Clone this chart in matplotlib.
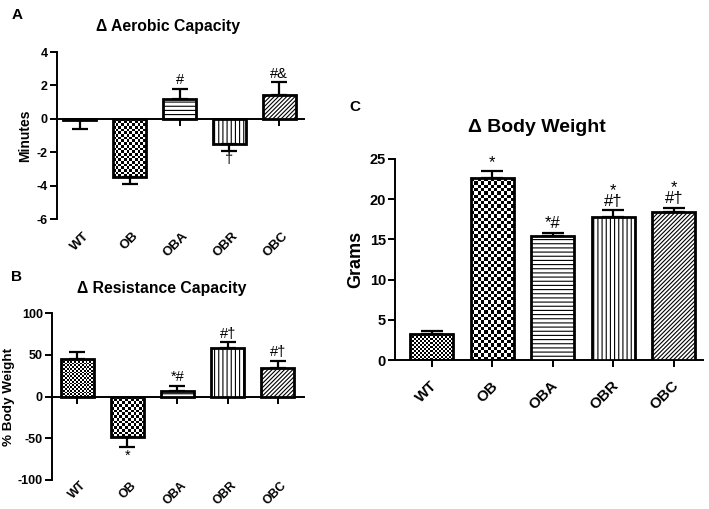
import numpy as np
import matplotlib
matplotlib.use("Agg")
import matplotlib.pyplot as plt
from matplotlib.transforms import ScaledTranslation

plt.rcParams['font.family'] = ['Liberation Sans', 'DejaVu Sans']
plt.rcParams['hatch.linewidth'] = 0.8
plt.rcParams['axes.unicode_minus'] = False

groups = ["WT", "OB", "OBA", "OBR", "OBC"]

aer_vals = [-0.1, -3.5, 1.2, -1.5, 1.4]
aer_err = [0.5, 0.4, 0.6, 0.4, 0.8]
aer_ann = ["", "", "#", "†", "#&"]

res_vals = [45, -48, 6, 58, 34]
res_err = [8, 13, 7, 7, 9]
res_ann = ["", "*", "*#", "#†", "#†"]

bw_vals = [3.2, 22.6, 15.4, 17.8, 18.4]
bw_err = [0.4, 0.9, 0.45, 0.8, 0.55]
bw_ann = ["", "*", "*#", "*\n#†", "*\n#†"]

patterns = ["check_fine", "check", "----", "||||", "////////"]

W, H = 709, 509
fig = plt.figure(figsize=(W / 100, H / 100), dpi=100)


def add_ax(l, r, t, b):
    return fig.add_axes([l / W, 1 - b / H, (r - l) / W, (b - t) / H])


def checker(ax, bar, sq):
    x0, y0 = bar.get_x(), bar.get_y()
    w, h = bar.get_width(), bar.get_height()
    p0 = ax.transData.transform((x0, y0))
    p1 = ax.transData.transform((x0 + w, y0 + h))
    nx = max(1, int(round(abs(p1[0] - p0[0]) / sq)))
    ny = max(1, int(round(abs(p1[1] - p0[1]) / sq)))
    img = np.indices((ny, nx)).sum(0) % 2
    ylo, yhi = min(y0, y0 + h), max(y0, y0 + h)
    im = ax.imshow(img, cmap="gray", extent=(x0, x0 + w, ylo, yhi), origin="lower",
                   interpolation="nearest", aspect="auto", zorder=2)
    im.set_clip_path(bar)


def shift_labels(labels, dx_px):
    for t in labels:
        t.set_transform(t.get_transform() + ScaledTranslation(dx_px / 100, 0, fig.dpi_scale_trans))


def panel(ax, vals, errs, anns, xlim, ylim, yticks, width, sq_fine, sq, capsize,
          tick_fs, xt_fs, lab_fs, ann_fs, zero_axis, ylabel, labelpad, xpad, xshift):
    x = np.arange(len(groups))
    ax.set_xlim(*xlim)
    ax.set_ylim(*ylim)
    bars = ax.bar(x, vals, width=width, facecolor="white", edgecolor="black",
                  linewidth=2.0, zorder=3)
    for b, p in zip(bars, patterns):
        if p.startswith("check"):
            b.set_facecolor("none")
            checker(ax, b, sq_fine if p == "check_fine" else sq)
        else:
            b.set_hatch(p)
    vals_a = np.array(vals, dtype=float)
    errs_a = np.array(errs, dtype=float)
    lower = np.where(vals_a < 0, errs_a, 0)
    upper = np.where(vals_a >= 0, errs_a, 0)
    ax.errorbar(x, vals_a, yerr=[lower, upper], fmt="none", ecolor="black",
                elinewidth=1.6, capsize=capsize, capthick=1.6, zorder=4)
    for xi, v, e, a in zip(x, vals_a, errs_a, anns):
        if not a:
            continue
        if v >= 0:
            ax.annotate(a, (xi, v + e), xytext=(0, 1), textcoords="offset points",
                        ha="center", va="bottom", fontsize=ann_fs, linespacing=0.7)
        else:
            ax.annotate(a, (xi, v - e), xytext=(0, -1), textcoords="offset points",
                        ha="center", va="top", fontsize=ann_fs, linespacing=0.7)
    ax.spines["top"].set_visible(False)
    ax.spines["right"].set_visible(False)
    ax.spines["left"].set_linewidth(1.4)
    ax.spines["bottom"].set_linewidth(1.4)
    ax.set_yticks(yticks)
    ax.tick_params(axis="y", direction="out", length=5, width=1.4, labelsize=tick_fs, pad=1.5)
    for t in ax.get_yticklabels():
        t.set_fontweight("bold")
    ax.set_ylabel(ylabel, fontsize=lab_fs, fontweight="bold", labelpad=labelpad)
    ax.set_xticks(x)
    if zero_axis:
        ax.spines["bottom"].set_position(("data", 0))
        ax.tick_params(axis="x", direction="out", length=5, width=1.4, labelbottom=False)
        sec = ax.secondary_xaxis("bottom")
        sec.spines["bottom"].set_visible(False)
        sec.set_xticks(x)
        labs = sec.set_xticklabels(groups, rotation=45, ha="right", va="center",
                                   rotation_mode="anchor", fontsize=xt_fs, fontweight="bold")
        sec.tick_params(length=0, pad=xpad)
    else:
        ax.tick_params(axis="x", direction="out", length=5, width=1.4, pad=xpad)
        labs = ax.set_xticklabels(groups, rotation=45, ha="right", va="center",
                                  rotation_mode="anchor", fontsize=xt_fs, fontweight="bold")
    shift_labels(labs, xshift)


axA = add_ax(57, 304, 52, 219)
panel(axA, aer_vals, aer_err, aer_ann, (-0.46, 4.5), (-6, 4), np.arange(-6, 5, 2),
      0.66, 1.8, 2.7, 5.5, 9, 9.5, 10, 10.5, True, "Minutes", 3, 11, 7)

axB = add_ax(52, 304, 313, 480)
panel(axB, res_vals, res_err, res_ann, (-0.5, 4.52), (-100, 100), np.arange(-100, 101, 50),
      0.66, 1.8, 2.7, 5.5, 9, 8.8, 9.7, 10.5, True, "% Body Weight", 2, 2.5, 7)

axC = add_ax(395, 703, 159, 360)
panel(axC, bw_vals, bw_err, bw_ann, (-0.61, 4.48), (0, 25), np.arange(0, 26, 5),
      0.71, 2.0, 3.3, 8, 10.5, 11, 13, 12, False, "Grams", 4, 12, 3)

fig.text(168 / W, 1 - 27 / H, "Δ Aerobic Capacity", ha="center", va="center",
         fontsize=11.3, fontweight="bold")
fig.text(162 / W, 1 - 288 / H, "Δ Resistance Capacity", ha="center", va="center",
         fontsize=11.3, fontweight="bold")
fig.text(537 / W, 1 - 128 / H, "Δ Body Weight", ha="center", va="center",
         fontsize=14, fontweight="bold")
fig.text(17 / W, 1 - 15 / H, "A", ha="center", va="center", fontsize=11, fontweight="bold")
fig.text(17 / W, 1 - 277 / H, "B", ha="center", va="center", fontsize=11, fontweight="bold")
fig.text(355 / W, 1 - 107 / H, "C", ha="center", va="center", fontsize=11, fontweight="bold")

fig.savefig("out.png", dpi=100)
